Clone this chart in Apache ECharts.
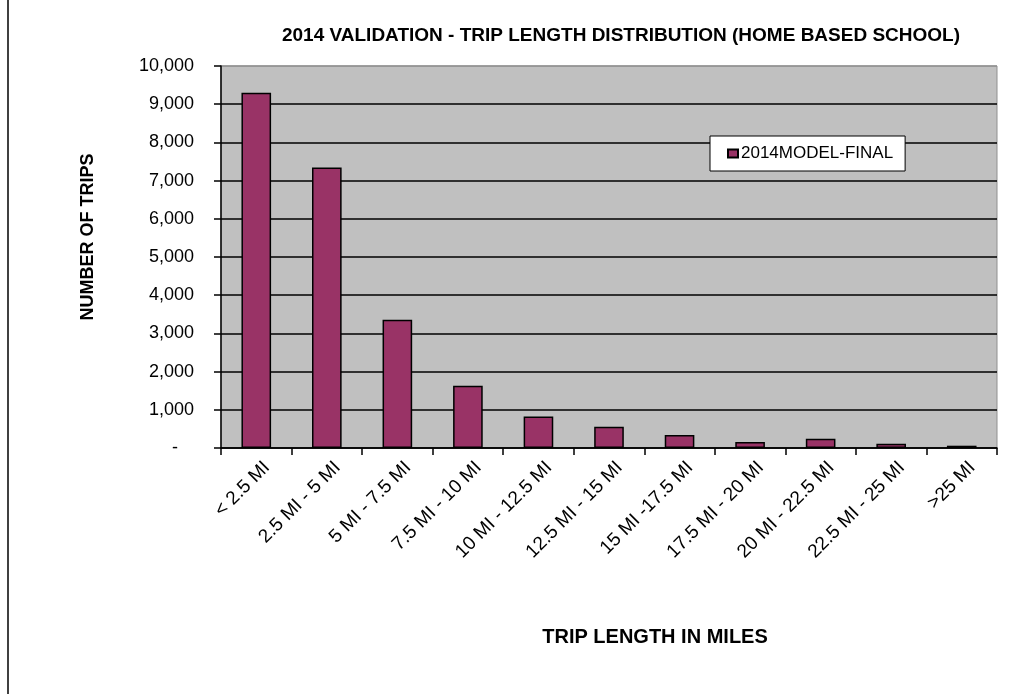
<!DOCTYPE html>
<html>
<head>
<meta charset="utf-8">
<script src="https://cdn.jsdelivr.net/npm/echarts@6/dist/echarts.min.js"></script>
<style>html,body{margin:0;padding:0;background:#fff;}#c{width:1026px;height:694px;}</style>
</head>
<body>
<div id="c"></div>
<script>
var categories = ['< 2.5 MI','2.5 MI - 5 MI','5 MI - 7.5 MI','7.5 MI - 10 MI','10 MI - 12.5 MI','12.5 MI - 15 MI','15 MI -17.5 MI','17.5 MI - 20 MI','20 MI - 22.5 MI','22.5 MI - 25 MI','>25 MI'];
var modelFinal = [9300, 7345, 3355, 1630, 825, 556, 340, 157, 243, 112, 60];
var seriesName = '2014MODEL-FINAL';
var titleText = '2014 VALIDATION - TRIP LENGTH DISTRIBUTION (HOME BASED SCHOOL)';
var yAxisTitle = 'NUMBER OF TRIPS';
var xAxisTitle = 'TRIP LENGTH IN MILES';

var FONT = 'Liberation Sans, Arial, sans-serif';
var gridColors = ['#000','#000','#000','#000','#000','#000','#000','#000','#000','#000','#909090'];

var chart = echarts.init(document.getElementById('c'), null, {renderer:'canvas'});
chart.setOption({
  animation: false,
  backgroundColor: '#fff',
  title: {
    text: titleText, left: 616, top: 21, textAlign: 'center',
    textStyle: {fontFamily: FONT, fontSize: 19, fontWeight: 'bold', color: '#000'}
  },
  legend: {
    data: [seriesName], left: 710, top: 136, orient: 'vertical',
    backgroundColor: '#fff', borderColor: '#000', borderWidth: 1,
    padding: [9, 12, 9, 17], itemWidth: 10, itemHeight: 8, itemGap: 4, icon: 'rect',
    textStyle: {fontFamily: FONT, fontSize: 17, color: '#000', padding: [0,0,0,-2]}
  },
  graphic: [
    {type: 'line', shape: {x1: 8, y1: 0, x2: 8, y2: 694}, style: {stroke: '#000', lineWidth: 1.5}},
    {type: 'text', x: 88, y: 237, rotation: Math.PI / 2,
     style: {text: yAxisTitle, textAlign: 'center', textVerticalAlign: 'middle',
             font: 'bold 18px ' + FONT, fill: '#000'}},
    {type: 'text', x: 655, y: 637,
     style: {text: xAxisTitle, textAlign: 'center', textVerticalAlign: 'middle',
             font: 'bold 20px ' + FONT, fill: '#000'}}
  ],
  grid: {left: 221, right: 29, top: 66, bottom: 246, backgroundColor: '#C0C0C0', show: true, borderWidth: 1, borderColor: '#909090'},
  xAxis: {
    type: 'category', data: categories,
    axisLine: {lineStyle: {color: '#000', width: 1.5}},
    axisTick: {show: true, alignWithLabel: false, length: 7, lineStyle: {color: '#000', width: 1.5}},
    axisLabel: {
      rotate: 45, interval: 0, margin: 6, fontFamily: FONT, fontSize: 19, color: '#000',
      formatter: function (v) { return '{a|' + v + '}'; },
      rich: {a: {fontFamily: FONT, fontSize: 19, color: '#000', padding: [30, 0, 0, 0]}}
    }
  },
  yAxis: {
    type: 'value', min: 0, max: 10000, interval: 1000,
    axisLine: {show: true, lineStyle: {color: '#000', width: 1.5}},
    axisTick: {show: true, length: 7, lineStyle: {color: '#000', width: 1.5}},
    splitLine: {show: true, lineStyle: {color: gridColors, width: 1.5}},
    axisLabel: {
      margin: 27, fontFamily: FONT, fontSize: 18, color: '#000',
      formatter: function (v) { return v === 0 ? '{d|-}' : v.toLocaleString('en-US'); },
      rich: {d: {fontFamily: FONT, fontSize: 18, color: '#000', padding: [0, 16, 0, 0]}}
    }
  },
  series: [{
    name: seriesName, type: 'bar', data: modelFinal, barWidth: '42%',
    itemStyle: {color: '#993366', borderColor: '#000', borderWidth: 1.5}
  }]
});
</script>
</body>
</html>
